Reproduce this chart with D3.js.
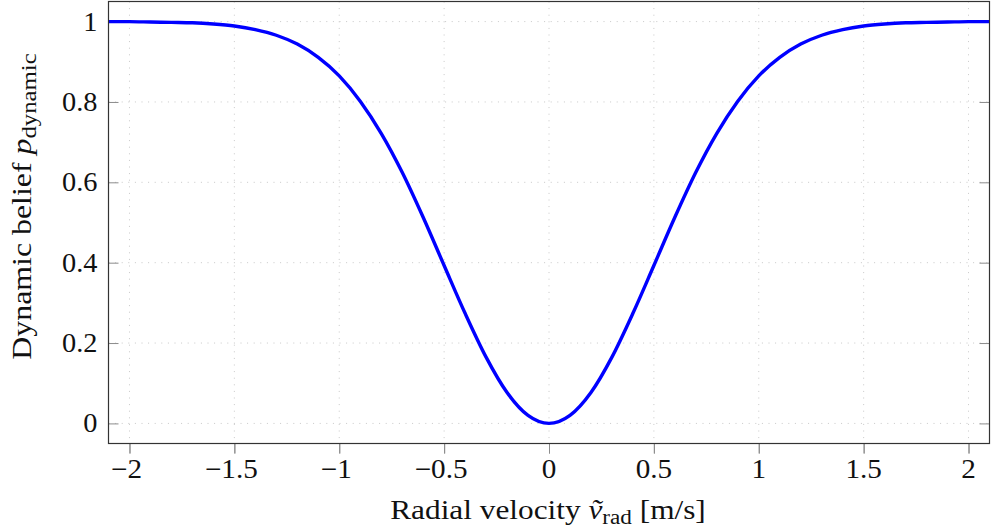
<!DOCTYPE html>
<html>
<head>
<meta charset="utf-8">
<script src="https://cdn.jsdelivr.net/npm/d3@7"></script>
<style>
    body { margin: 0; background: #fff; }
    text { font-family: "Liberation Serif", "DejaVu Serif", serif; fill: #111; }
</style>
</head>
<body>
<div id="chart"></div>
<script>
// Radial velocity samples [m/s] and the dynamic belief
const velocity = [-2.1, -2.0, -1.9, -1.8, -1.7, -1.6, -1.5, -1.4, -1.3, -1.2, -1.1,
    -1.0, -0.9, -0.8, -0.7, -0.6, -0.5, -0.4, -0.3, -0.2, -0.1, 0,
    0.1, 0.2, 0.3, 0.4, 0.5, 0.6, 0.7, 0.8, 0.9, 1.0,
    1.1, 1.2, 1.3, 1.4, 1.5, 1.6, 1.7, 1.8, 1.9, 2.0, 2.1];
const belief = [1.000, 1.000, 0.999, 0.998, 0.997, 0.994, 0.989, 0.980, 0.966, 0.944, 0.911,
    0.865, 0.802, 0.722, 0.625, 0.513, 0.393, 0.274, 0.165, 0.077, 0.020, 0.000,
    0.020, 0.077, 0.165, 0.274, 0.393, 0.513, 0.625, 0.722, 0.802, 0.865,
    0.911, 0.944, 0.966, 0.980, 0.989, 0.994, 0.997, 0.998, 0.999, 1.000, 1.000];

const xTicks = [-2, -1.5, -1, -0.5, 0, 0.5, 1, 1.5, 2];
const yTicks = [0, 0.2, 0.4, 0.6, 0.8, 1];

const margin = { top: 1.5, right: 2.5, bottom: 85.5, left: 108.5 };
const width = 992 - margin.left - margin.right;
const height = 529 - margin.top - margin.bottom;

const svg = d3.select("#chart").append("svg")
    .attr("width", 992)
    .attr("height", 529)
    .append("g")
    .attr("transform", `translate(${margin.left},${margin.top})`);

const x = d3.scaleLinear().domain([-2.1, 2.1]).range([0, width]);
const y = d3.scaleLinear().domain([-0.05, 1.05]).range([height, 0]);

const fmt = d => (d < 0 ? "\u2212" : "") + Math.abs(d);

// Dotted grid
svg.append("g")
    .selectAll("line")
    .data(xTicks)
    .enter().append("line")
    .attr("x1", d => x(d)).attr("x2", d => x(d))
    .attr("y1", 0).attr("y2", height)
    .style("stroke", "#c8c8c8")
    .style("stroke-width", 1)
    .style("stroke-dasharray", "1,5.6");

svg.append("g")
    .selectAll("line")
    .data(yTicks)
    .enter().append("line")
    .attr("x1", 0).attr("x2", width)
    .attr("y1", d => y(d)).attr("y2", d => y(d))
    .style("stroke", "#c8c8c8")
    .style("stroke-width", 1)
    .style("stroke-dasharray", "1,5.6");

// Inner ticks on all four sides
const tickLen = 10;
const axes = [
    d3.axisBottom(x).tickValues(xTicks).tickSize(tickLen).tickFormat(""),
    d3.axisTop(x).tickValues(xTicks).tickSize(tickLen).tickFormat(""),
    d3.axisLeft(y).tickValues(yTicks).tickSize(tickLen).tickFormat(""),
    d3.axisRight(y).tickValues(yTicks).tickSize(tickLen).tickFormat("")
];
const places = [`translate(0,${height})`, `translate(0,${height}) scale(1,-1)`,
    "scale(-1,1)", `translate(${width},0) scale(-1,1)`];
axes.forEach((ax, i) => {
    const g = svg.append("g").attr("transform", places[i]).call(ax);
    g.select(".domain").remove();
    g.selectAll(".tick line").style("stroke", "#8c8c8c").style("stroke-width", 1);
});

// Tick labels
svg.append("g")
    .selectAll("text")
    .data(xTicks)
    .enter().append("text")
    .attr("transform", d => `translate(${x(d) - (d < 0 ? 3 : 0)},${height + 34}) scale(1.08,1)`)
    .attr("text-anchor", "middle")
    .style("font-size", "27px")
    .text(fmt);

svg.append("g")
    .selectAll("text")
    .data(yTicks)
    .enter().append("text")
    .attr("transform", d => `translate(-11,${y(d) + 9}) scale(1.05,1)`)
    .attr("text-anchor", "end")
    .style("font-size", "27px")
    .text(fmt);

// The belief curve
svg.append("path")
    .datum(velocity.map((v, i) => [v, belief[i]]))
    .attr("d", d3.line().x(d => x(d[0])).y(d => y(d[1])).curve(d3.curveMonotoneX))
    .style("fill", "none")
    .style("stroke", "#0000ff")
    .style("stroke-width", 3.4);

// Frame
svg.append("rect")
    .attr("width", width)
    .attr("height", height)
    .style("fill", "none")
    .style("stroke", "#333")
    .style("stroke-width", 1.2);

// X-axis label
const xl = svg.append("text")
    .attr("transform", `translate(${x(0) - 1},${height + 75}) scale(1.16,1)`)
    .attr("text-anchor", "middle")
    .style("font-size", "27px");
xl.append("tspan").text("Radial velocity ");
xl.append("tspan").style("font-style", "italic").text("v\u0303");
xl.append("tspan").attr("dy", 5).style("font-size", "20px").text("rad");
xl.append("tspan").attr("dy", -5).text(" [m/s]");

// Y-axis label
const yl = svg.append("text")
    .attr("transform", `translate(${-78},${y(0.5) - 16}) rotate(-90) scale(1.18,1)`)
    .attr("text-anchor", "middle")
    .style("font-size", "27px");
yl.append("tspan").text("Dynamic belief ");
yl.append("tspan").style("font-style", "italic").text("p");
yl.append("tspan").attr("dy", 5).style("font-size", "21px").text("dynamic");
</script>
</body>
</html>
